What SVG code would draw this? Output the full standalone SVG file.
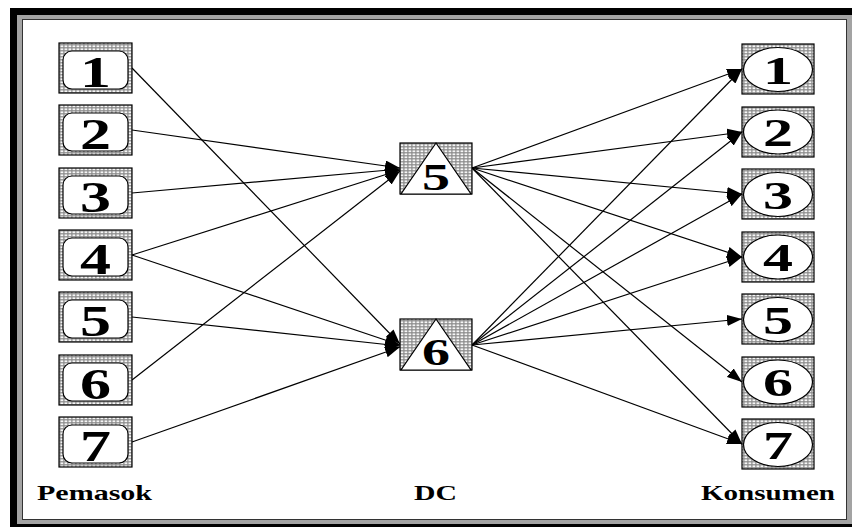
<svg xmlns="http://www.w3.org/2000/svg" width="855" height="527" viewBox="0 0 855 527">
<defs>
<pattern id="dots" width="4" height="3" patternUnits="userSpaceOnUse">
<rect width="4" height="3" fill="#8a8a8a"/>
<rect x="0.5" y="0.4" width="2.8" height="1.8" fill="#f6f6f6"/>
</pattern>
<marker id="ah" markerUnits="userSpaceOnUse" markerWidth="15" markerHeight="11" refX="15" refY="5.5" orient="auto">
<path d="M0,0 L15,5.5 L0,11 Z" fill="#000"/>
</marker>
</defs>
<style>
.box{fill:url(#dots);stroke:#000;stroke-width:1.2}
.inner{fill:#fff;stroke:#000;stroke-width:1.2}
.dg{font-family:"Liberation Serif","Times New Roman",serif;font-weight:bold;text-anchor:middle;fill:#000}
.s{font-size:44px}
.c{font-size:40px}
.d{font-size:38px}
.lbl{font-family:"Liberation Serif","Times New Roman",serif;font-weight:bold;font-size:21px;fill:#000}
.ln{stroke:#000;stroke-width:1.2;fill:none;marker-end:url(#ah)}
</style>
<rect x="10" y="8" width="842" height="519" fill="#000"/>
<rect x="17" y="15" width="835" height="509" fill="#a3a3a3"/>
<rect x="22.5" y="19.5" width="824" height="500" fill="#fff" stroke="#333" stroke-width="1"/>

<g id="connectors">
<path class="ln" d="M132,68 L400,344"/>
<path class="ln" d="M132,130 L400,168"/>
<path class="ln" d="M132,193 L400,169"/>
<path class="ln" d="M132,255 L400,170"/>
<path class="ln" d="M132,255 L400,345"/>
<path class="ln" d="M132,317 L400,346"/>
<path class="ln" d="M132,380 L400,171"/>
<path class="ln" d="M132,442 L400,347"/>
<path class="ln" d="M472,168 L742,69"/>
<path class="ln" d="M472,168 L742,132"/>
<path class="ln" d="M472,168 L742,194"/>
<path class="ln" d="M472,168 L742,257"/>
<path class="ln" d="M472,168 L742,382"/>
<path class="ln" d="M472,168 L742,444"/>
<path class="ln" d="M472,345 L742,69"/>
<path class="ln" d="M472,345 L742,132"/>
<path class="ln" d="M472,345 L742,194"/>
<path class="ln" d="M472,345 L742,257"/>
<path class="ln" d="M472,345 L742,319"/>
<path class="ln" d="M472,345 L742,444"/>
</g>

<g id="pemasok-1"><rect class="box" x="59" y="43" width="73" height="50"/><rect class="inner" x="63" y="51" width="65" height="38" rx="9"/><text class="dg s" x="95.5" y="87" textLength="31" lengthAdjust="spacingAndGlyphs">1</text></g>
<g id="pemasok-2"><rect class="box" x="59" y="105" width="73" height="50"/><rect class="inner" x="63" y="113" width="65" height="38" rx="9"/><text class="dg s" x="95.5" y="149" textLength="31" lengthAdjust="spacingAndGlyphs">2</text></g>
<g id="pemasok-3"><rect class="box" x="59" y="168" width="73" height="50"/><rect class="inner" x="63" y="176" width="65" height="38" rx="9"/><text class="dg s" x="95.5" y="212" textLength="31" lengthAdjust="spacingAndGlyphs">3</text></g>
<g id="pemasok-4"><rect class="box" x="59" y="230" width="73" height="50"/><rect class="inner" x="63" y="238" width="65" height="38" rx="9"/><text class="dg s" x="95.5" y="274" textLength="31" lengthAdjust="spacingAndGlyphs">4</text></g>
<g id="pemasok-5"><rect class="box" x="59" y="292" width="73" height="50"/><rect class="inner" x="63" y="300" width="65" height="38" rx="9"/><text class="dg s" x="95.5" y="336" textLength="31" lengthAdjust="spacingAndGlyphs">5</text></g>
<g id="pemasok-6"><rect class="box" x="59" y="355" width="73" height="50"/><rect class="inner" x="63" y="363" width="65" height="38" rx="9"/><text class="dg s" x="95.5" y="399" textLength="31" lengthAdjust="spacingAndGlyphs">6</text></g>
<g id="pemasok-7"><rect class="box" x="59" y="417" width="73" height="50"/><rect class="inner" x="63" y="425" width="65" height="38" rx="9"/><text class="dg s" x="95.5" y="461" textLength="31" lengthAdjust="spacingAndGlyphs">7</text></g>

<g id="dc-5"><rect class="box" x="400" y="143" width="72" height="51"/><path class="inner" d="M436,143 L401,194 L471,194 Z"/><text class="dg d" x="436" y="190" textLength="28" lengthAdjust="spacingAndGlyphs">5</text></g>
<g id="dc-6"><rect class="box" x="400" y="319" width="72" height="51"/><path class="inner" d="M436,319 L401,370 L471,370 Z"/><text class="dg d" x="436" y="365" textLength="28" lengthAdjust="spacingAndGlyphs">6</text></g>

<g id="konsumen-1"><rect class="box" x="742" y="44" width="72" height="50"/><ellipse class="inner" cx="778" cy="69.5" rx="34.5" ry="22"/><text class="dg c" x="778" y="83.5" textLength="30" lengthAdjust="spacingAndGlyphs">1</text></g>
<g id="konsumen-2"><rect class="box" x="742" y="107" width="72" height="50"/><ellipse class="inner" cx="778" cy="132" rx="34.5" ry="22"/><text class="dg c" x="778" y="146" textLength="30" lengthAdjust="spacingAndGlyphs">2</text></g>
<g id="konsumen-3"><rect class="box" x="742" y="169" width="72" height="50"/><ellipse class="inner" cx="778" cy="194.5" rx="34.5" ry="22"/><text class="dg c" x="778" y="208.5" textLength="30" lengthAdjust="spacingAndGlyphs">3</text></g>
<g id="konsumen-4"><rect class="box" x="742" y="232" width="72" height="50"/><ellipse class="inner" cx="778" cy="257" rx="34.5" ry="22"/><text class="dg c" x="778" y="271" textLength="30" lengthAdjust="spacingAndGlyphs">4</text></g>
<g id="konsumen-5"><rect class="box" x="742" y="294" width="72" height="50"/><ellipse class="inner" cx="778" cy="319.5" rx="34.5" ry="22"/><text class="dg c" x="778" y="333.5" textLength="30" lengthAdjust="spacingAndGlyphs">5</text></g>
<g id="konsumen-6"><rect class="box" x="742" y="357" width="72" height="50"/><ellipse class="inner" cx="778" cy="382" rx="34.5" ry="22"/><text class="dg c" x="778" y="396" textLength="30" lengthAdjust="spacingAndGlyphs">6</text></g>
<g id="konsumen-7"><rect class="box" x="742" y="419" width="72" height="50"/><ellipse class="inner" cx="778" cy="444.5" rx="34.5" ry="22"/><text class="dg c" x="778" y="458.5" textLength="30" lengthAdjust="spacingAndGlyphs">7</text></g>

<g id="labels">
<text class="lbl" x="37" y="500" textLength="115" lengthAdjust="spacingAndGlyphs">Pemasok</text>
<text class="lbl" x="414" y="500" textLength="43" lengthAdjust="spacingAndGlyphs">DC</text>
<text class="lbl" x="701" y="500" textLength="134" lengthAdjust="spacingAndGlyphs">Konsumen</text>
</g>
</svg>
